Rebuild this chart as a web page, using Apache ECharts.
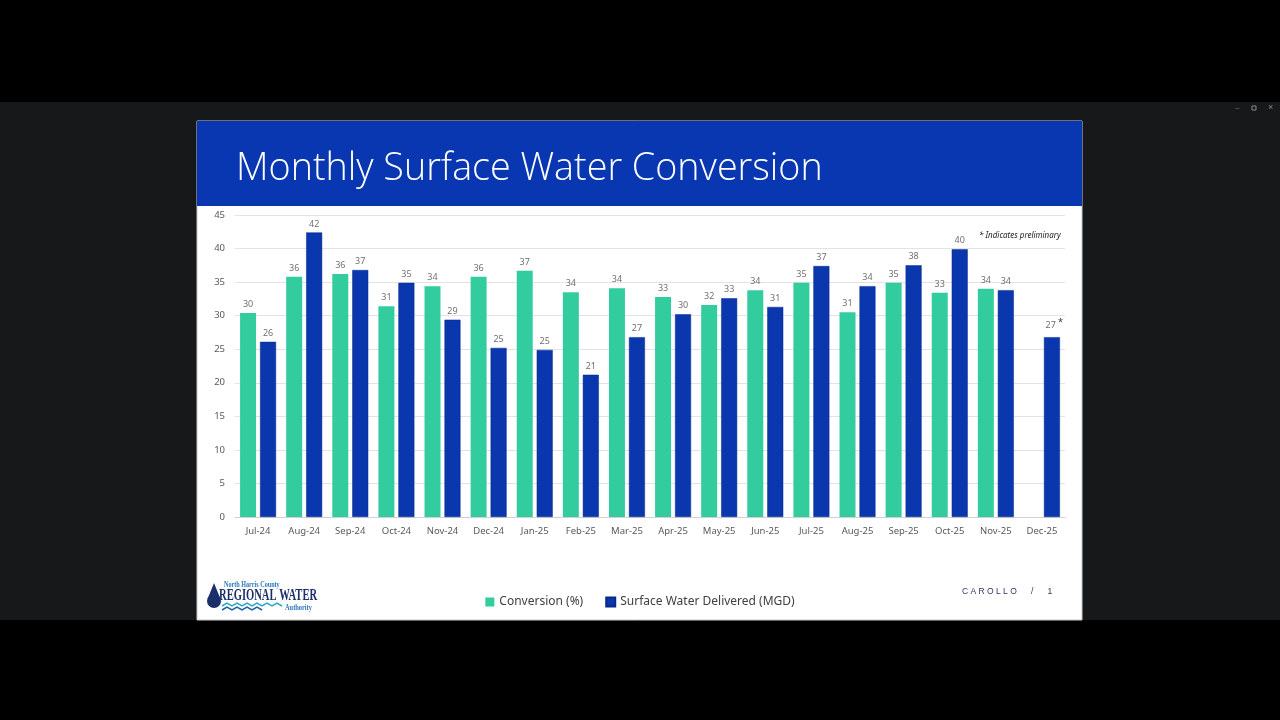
<!DOCTYPE html>
<html lang="en">
  <head>
    <meta charset="UTF-8" />
    <title>Monthly Surface Water Conversion</title>
    <script src="https://cdn.jsdelivr.net/npm/echarts@6/dist/echarts.min.js"></script>
    <style>
      html,
      body {
        margin: 0;
        padding: 0;
        background: #000;
      }
      #chart {
        width: 1280px;
        height: 720px;
      }
    </style>
  </head>
  <body>
    <div id="chart"></div>

    <script>
      // months on the x axis
      var months = [
        "Jul-24", "Aug-24", "Sep-24", "Oct-24", "Nov-24", "Dec-24",
        "Jan-25", "Feb-25", "Mar-25", "Apr-25", "May-25", "Jun-25",
        "Jul-25", "Aug-25", "Sep-25", "Oct-25", "Nov-25", "Dec-25",
      ];

      // Conversion (%) - no value yet for Dec-25
      var conversion = [
        30.4, 35.8, 36.2, 31.4, 34.4, 35.8,
        36.7, 33.5, 34.1, 32.8, 31.6, 33.8,
        34.9, 30.5, 34.9, 33.4, 34.0, null,
      ];

      // Surface Water Delivered (MGD)
      var delivered = [
        26.1, 42.4, 36.8, 34.9, 29.4, 25.2,
        24.9, 21.2, 26.8, 30.2, 32.6, 31.3,
        37.4, 34.4, 37.5, 39.9, 33.8, 26.8,
      ];

      // months whose value is preliminary (marked with *)
      var preliminary = ["Dec-25"];

      var chart = echarts.init(document.getElementById("chart"));

      var labelStyle = {
        show: true,
        position: "top",
        distance: 4,
        color: "#707070",
        fontSize: 9,
        fontFamily: "Noto Sans",
      };

      var option = {
        backgroundColor: "#000",
        animation: false,
        textStyle: { fontFamily: "Noto Sans" },
        graphic: [
          // dark window band
          {
            type: "rect",
            shape: { x: 0, y: 102, width: 1280, height: 518 },
            style: { fill: "#16181a" },
            z: -10,
          },
          // window controls
          {
            type: "text",
            style: { x: 1235, y: 104, text: "–", fill: "#777", fontSize: 8 },
          },
          {
            type: "rect",
            shape: { x: 1252, y: 106, width: 4, height: 4 },
            style: { fill: "none", stroke: "#888", lineWidth: 1 },
          },
          {
            type: "text",
            style: { x: 1268, y: 103, text: "×", fill: "#888", fontSize: 9 },
          },
          // slide
          {
            type: "rect",
            shape: { x: 197, y: 121, width: 885, height: 499 },
            style: { fill: "#ffffff", stroke: "#c8c8c8", lineWidth: 1 },
            z: -9,
          },
          // header bar
          {
            type: "rect",
            shape: { x: 197, y: 121, width: 885, height: 85 },
            style: { fill: "#0837b1" },
            z: -8,
          },
          {
            type: "text",
            style: {
              x: 236,
              y: 169,
              text: "Monthly Surface Water Conversion",
              fill: "#ffffff",
              fontSize: 37.7,
              fontWeight: 300,
              fontFamily: "Open Sans",
              verticalAlign: "middle",
            },
          },
          // note
          {
            type: "text",
            style: {
              x: 979,
              y: 236,
              text: "* Indicates preliminary",
              fill: "#222",
              fontSize: 8,
              fontStyle: "italic",
              fontFamily: "Noto Sans",
              verticalAlign: "middle",
            },
          },
          // logo
          {
            type: "circle",
            shape: { cx: 214, cy: 601, r: 7 },
            style: { fill: "#1b2f6b" },
          },
          {
            type: "polygon",
            shape: { points: [[214, 583], [207.5, 599], [220.5, 599]] },
            style: { fill: "#1b2f6b" },
          },
          {
            type: "text",
            x: 224,
            y: 585,
            scaleX: 0.82,
            style: {
              x: 0,
              y: 0,
              text: "North Harris County",
              fill: "#2c79b8",
              fontSize: 7.5,
              fontWeight: "bold",
              fontFamily: "Liberation Serif",
              verticalAlign: "middle",
            },
          },
          {
            type: "text",
            x: 219,
            y: 596,
            scaleX: 0.66,
            style: {
              x: 0,
              y: 0,
              text: "REGIONAL WATER",
              fill: "#1b2f6b",
              fontSize: 16,
              fontWeight: "bold",
              fontFamily: "Liberation Serif",
              verticalAlign: "middle",
            },
          },
          {
            type: "polyline",
            shape: {
              points: [
                [222, 606], [227, 603], [232, 606], [237, 603], [242, 606],
                [247, 603], [252, 606], [257, 603], [262, 606], [267, 603],
                [272, 606], [277, 603], [282, 606],
              ],
            },
            style: { stroke: "#2aa6c8", lineWidth: 1.5, fill: "none" },
          },
          {
            type: "polyline",
            shape: {
              points: [
                [222, 610], [227, 607], [232, 610], [237, 607], [242, 610],
                [247, 607], [252, 610], [257, 607], [262, 610],
              ],
            },
            style: { stroke: "#1f5fa8", lineWidth: 1.5, fill: "none" },
          },
          {
            type: "text",
            x: 285,
            y: 608,
            scaleX: 0.85,
            style: {
              x: 0,
              y: 0,
              text: "Authority",
              fill: "#2c79b8",
              fontSize: 7.5,
              fontWeight: "bold",
              fontFamily: "Liberation Serif",
              verticalAlign: "middle",
            },
          },
          // footer
          {
            type: "text",
            style: {
              x: 962,
              y: 592,
              text: "C A R O L L O      /      1",
              fill: "#2c3466",
              fontSize: 8.5,
              fontFamily: "Liberation Sans",
              verticalAlign: "middle",
            },
          },
        ],
        legend: {
          left: "center",
          top: 591,
          itemWidth: 9,
          itemHeight: 9,
          itemGap: 22,
          icon: "rect",
          textStyle: { color: "#404040", fontSize: 12, fontFamily: "Noto Sans" },
          data: ["Conversion (%)", "Surface Water Delivered (MGD)"],
        },
        grid: {
          left: 235,
          right: 215,
          top: 215,
          bottom: 203,
          containLabel: false,
        },
        xAxis: {
          type: "category",
          data: months,
          axisLine: { lineStyle: { color: "#d0d0d0" } },
          axisTick: { show: false },
          axisLabel: { color: "#595959", fontSize: 9.5, margin: 9 },
        },
        yAxis: {
          type: "value",
          min: 0,
          max: 45,
          interval: 5,
          axisLine: { show: false },
          axisTick: { show: false },
          axisLabel: { color: "#595959", fontSize: 9.5, margin: 10 },
          splitLine: { lineStyle: { color: "#e3e3e3" } },
        },
        series: [
          {
            name: "Conversion (%)",
            type: "bar",
            data: conversion,
            barGap: "25%",
            barCategoryGap: "22%",
            itemStyle: { color: "#33cc9f" },
            label: Object.assign({}, labelStyle, {
              formatter: function (p) {
                return Math.round(p.value);
              },
            }),
          },
          {
            name: "Surface Water Delivered (MGD)",
            type: "bar",
            data: delivered,
            itemStyle: { color: "#0a36ae", borderColor: "#062a86", borderWidth: 0.5 },
            label: Object.assign({}, labelStyle, {
              formatter: function (p) {
                var v = Math.round(p.value);
                if (preliminary.indexOf(p.name) >= 0) {
                  return "  " + v + " {s|*}";
                }
                return v;
              },
              rich: {
                s: { fontSize: 9, color: "#333", padding: [0, 0, 6, 0] },
              },
            }),
          },
        ],
      };

      chart.setOption(option);
    </script>
  </body>
</html>
